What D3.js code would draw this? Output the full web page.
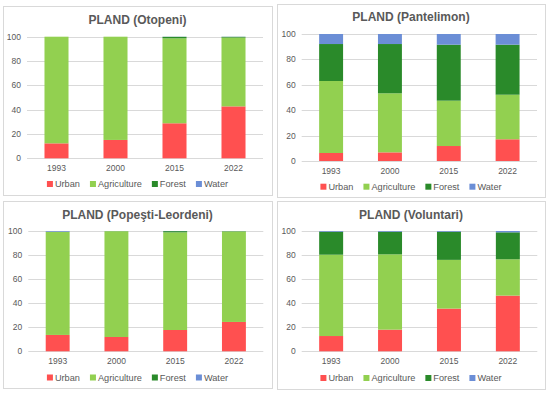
<!DOCTYPE html>
<html>
<head>
<meta charset="utf-8">
<script src="https://cdn.jsdelivr.net/npm/d3@7"></script>
<style>
  body { margin: 0; background: #fff; }
  text { font-family: "Liberation Sans", Arial, sans-serif; fill: #595959; }
</style>
</head>
<body>
<svg width="550" height="394"></svg>
<script>
// Data (PLAND, % of landscape)
const years = ["1993", "2000", "2015", "2022"];
const classes = ["Urban", "Agriculture", "Forest", "Water"];
const yTicks = [0, 20, 40, 60, 80, 100];

const otopeniUrban = [12.3, 15.1, 28.8, 42.7];
const otopeniAgriculture = [87.7, 84.9, 69.9, 56.6];
const otopeniForest = [0, 0, 1.2, 0.6];
const otopeniWater = [0, 0, 0.1, 0.1];

const pantelimonUrban = [6.3, 6.8, 11.8, 17.1];
const pantelimonAgriculture = [56.7, 46.5, 35.7, 35.1];
const pantelimonForest = [29.1, 38.8, 44.1, 39.4];
const pantelimonWater = [7.9, 7.9, 8.4, 8.4];

const popestiUrban = [13.6, 11.9, 17.7, 24.4];
const popestiAgriculture = [85.8, 88.0, 81.2, 75.3];
const popestiForest = [0, 0, 1.0, 0.2];
const popestiWater = [0.6, 0.1, 0.1, 0.1];

const voluntariUrban = [12.7, 18.0, 35.5, 46.3];
const voluntariAgriculture = [67.6, 62.6, 40.5, 30.2];
const voluntariForest = [19.1, 18.8, 23.4, 22.4];
const voluntariWater = [0.6, 0.6, 0.6, 1.1];

const colors = d3.scaleOrdinal()
    .domain(classes)
    .range(["#ff5050", "#92d050", "#2a8a2a", "#6b8ed6"]);

// panel layout (box + plot area in page pixels)
const panels = [
    { title: "PLAND (Otopeni)", values: [otopeniUrban, otopeniAgriculture, otopeniForest, otopeniWater],
      box: [3, 6, 269, 189], plot: [27, 263, 36.7, 158.3], titleY: 24, xLabY: 171, legY: 184 },
    { title: "PLAND (Pantelimon)", values: [pantelimonUrban, pantelimonAgriculture, pantelimonForest, pantelimonWater],
      box: [277, 4, 268, 193], plot: [301.7, 537, 34, 161], titleY: 20.7, xLabY: 173.5, legY: 186.7 },
    { title: "PLAND (Popeşti-Leordeni)", values: [popestiUrban, popestiAgriculture, popestiForest, popestiWater],
      box: [3, 201, 269, 187], plot: [28.3, 263.3, 231, 351.3], titleY: 218.7, xLabY: 364, legY: 377.5 },
    { title: "PLAND (Voluntari)", values: [voluntariUrban, voluntariAgriculture, voluntariForest, voluntariWater],
      box: [277, 201, 268, 188], plot: [301.7, 537.3, 231, 351.3], titleY: 218.7, xLabY: 364, legY: 378 },
];

const svg = d3.select("svg");

panels.forEach(p => {
    const g = svg.append("g");
    const [bx, by, bw, bh] = p.box;
    const [x0, x1, y0, y1] = p.plot;

    g.append("rect")
        .attr("x", bx + 0.5).attr("y", by + 0.5)
        .attr("width", bw).attr("height", bh)
        .attr("fill", "#fff")
        .attr("stroke", "#d9d9d9");

    g.append("text")
        .attr("x", bx + bw / 2).attr("y", p.titleY)
        .attr("text-anchor", "middle")
        .style("font-size", "12px").style("font-weight", "bold")
        .text(p.title);

    const x = d3.scaleBand().domain(years).range([x0, x1]).paddingInner(0.593).paddingOuter(0.2965);
    const y = d3.scaleLinear().domain([0, 100]).range([y1, y0]);

    // gridlines
    g.selectAll(".grid").data(yTicks).enter().append("line")
        .attr("x1", x0).attr("x2", x1)
        .attr("y1", d => Math.round(y(d)) + 0.5).attr("y2", d => Math.round(y(d)) + 0.5)
        .attr("stroke", "#d9d9d9");

    g.selectAll(".ylab").data(yTicks).enter().append("text")
        .attr("x", x0 - 6).attr("y", d => y(d) + 3)
        .attr("text-anchor", "end")
        .style("font-size", "8.5px")
        .text(d => d);

    // stacked bars
    const rows = years.map((yr, i) => {
        const r = { year: yr };
        classes.forEach((c, k) => r[c] = p.values[k][i]);
        return r;
    });
    const series = d3.stack().keys(classes)(rows);

    g.selectAll(".layer").data(series).enter().append("g")
        .attr("fill", d => colors(d.key))
        .selectAll("rect").data(d => d).enter().append("rect")
        .attr("x", d => x(d.data.year))
        .attr("width", x.bandwidth())
        .attr("y", d => y(d[1]))
        .attr("height", d => y(d[0]) - y(d[1]));

    g.selectAll(".xlab").data(years).enter().append("text")
        .attr("x", d => x(d) + x.bandwidth() / 2).attr("y", p.xLabY)
        .attr("text-anchor", "middle")
        .style("font-size", "8.5px")
        .text(d => d);

    // legend, centred under the plot
    const leg = g.append("g");
    let cx = 0;
    classes.forEach(c => {
        const item = leg.append("g").attr("transform", `translate(${cx},0)`);
        item.append("rect").attr("x", 0).attr("y", -3).attr("width", 6).attr("height", 6)
            .attr("fill", colors(c));
        const t = item.append("text").attr("x", 8).attr("y", 3.3)
            .style("font-size", "9.2px").text(c);
        cx += 8 + t.node().getComputedTextLength() + 10;
    });
    const legW = cx - 10;
    leg.attr("transform", `translate(${bx + bw / 2 - legW / 2},${p.legY})`);
});
</script>
</body>
</html>
